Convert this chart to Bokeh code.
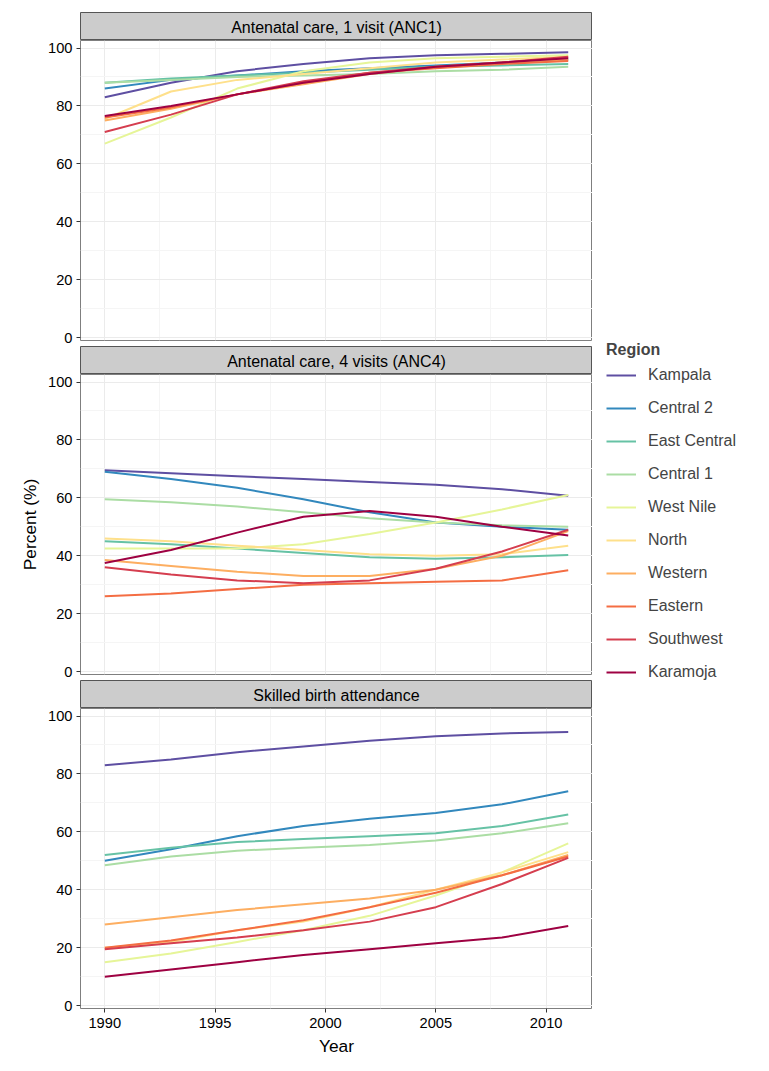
from bokeh.plotting import figure
from bokeh.layouts import column, row, Spacer
from bokeh.models import Legend, LegendItem, FixedTicker
from bokeh.core.properties import value
from bokeh.embed import file_html
from bokeh.resources import INLINE

years = [1990, 1993, 1996, 1999, 2002, 2005, 2008, 2011]
regions = ["Kampala", "Central 2", "East Central", "Central 1", "West Nile",
           "North", "Western", "Eastern", "Southwest", "Karamoja"]
colors = ["#5E4FA2", "#3288BD", "#66C2A5", "#ABDDA4", "#E6F598",
          "#FEE08B", "#FDAE61", "#F46D43", "#D53E4F", "#9E0142"]

anc1 = [
    [83, 88, 92, 94.5, 96.5, 97.5, 98, 98.5],
    [86, 89, 90.5, 92, 93, 94, 95, 96],
    [88, 89.5, 90.5, 91.5, 92.5, 93.5, 94, 94.5],
    [88, 89, 90, 90.5, 91, 92, 92.5, 93.5],
    [67, 76, 86, 92, 95, 96.5, 97, 97.5],
    [75.5, 85, 89, 91, 93, 95, 96, 97],
    [75, 79, 84, 87.5, 91, 93.5, 95, 96],
    [76, 79.5, 84, 88, 91.5, 93, 94.5, 95.5],
    [71, 77, 84, 88.5, 91.5, 93.5, 95, 97],
    [76.5, 80, 84, 88, 91, 93.5, 95, 96.5],
]
anc4 = [
    [69.5, 68.5, 67.5, 66.5, 65.5, 64.5, 63, 60.7],
    [69, 66.5, 63.5, 59.5, 55, 51.5, 50, 49],
    [45, 44, 42.5, 41, 39.5, 39, 39.5, 40.3],
    [59.5, 58.5, 57, 55, 53, 51.5, 50.5, 50],
    [42.5, 42.5, 42.5, 44, 47.5, 51.5, 56, 61],
    [46, 45, 43.5, 42, 40.5, 40, 40.5, 43.5],
    [38.5, 36.5, 34.5, 33, 33, 35.5, 40, 48.5],
    [26, 27, 28.5, 30, 30.5, 31, 31.5, 35],
    [36, 33.5, 31.5, 30.5, 31.5, 35.5, 41.5, 49],
    [37.5, 42, 48, 53.5, 55.5, 53.5, 50, 47],
]
sba = [
    [83, 85, 87.5, 89.5, 91.5, 93, 94, 94.5],
    [50, 54, 58.5, 62, 64.5, 66.5, 69.5, 74],
    [52, 54.5, 56.5, 57.5, 58.5, 59.5, 62, 66],
    [48.5, 51.5, 53.5, 54.5, 55.5, 57, 59.5, 63],
    [15, 18, 22, 26, 31, 38, 46, 56],
    [20, 22, 26, 29, 34, 40, 46, 53],
    [28, 30.5, 33, 35, 37, 40, 45, 52],
    [20, 22.5, 26, 29.5, 34, 39, 45, 51.5],
    [19.5, 21.5, 23.5, 26, 29, 34, 42, 51],
    [10, 12.5, 15, 17.5, 19.5, 21.5, 23.5, 27.5],
]
panels = ["Antenatal care, 1 visit (ANC1)", "Antenatal care, 4 visits (ANC4)",
          "Skilled birth attendance"]

FONT = "Liberation Sans"
FW = 512
LEFT = 80


def make_strip(title, top):
    s = figure(frame_width=FW, frame_height=28, output_backend="svg",
               toolbar_location=None, x_range=(0, 1), y_range=(0, 1),
               min_border_left=LEFT, min_border_right=0, min_border_top=top,
               min_border_bottom=0)
    s.axis.visible = False
    s.grid.visible = False
    s.background_fill_color = "#CCCCCC"
    s.outline_line_color = "#555555"
    s.text(x=[0.5], y=[0.45], text=[title], text_align="center",
           text_baseline="middle", text_font=value(FONT),
           text_font_size="12pt", text_color="black")
    return s


def make_panel(data, idx):
    bottom = 62 if idx == 2 else 6
    p = figure(frame_width=FW, frame_height=300, output_backend="svg",
               toolbar_location=None, x_range=(1988.9, 2012.1), y_range=(-1, 102.6),
               min_border_left=LEFT, min_border_top=0, min_border_bottom=bottom,
               min_border_right=0)
    p.background_fill_color = "white"
    p.outline_line_color = "#7F7F7F"
    p.xaxis.ticker = FixedTicker(ticks=[1990, 1995, 2000, 2005, 2010],
                                 minor_ticks=[1992.5, 1997.5, 2002.5, 2007.5])
    p.yaxis.ticker = FixedTicker(ticks=[0, 20, 40, 60, 80, 100],
                                 minor_ticks=[10, 30, 50, 70, 90])
    for ax in (p.xaxis, p.yaxis):
        ax.major_label_text_font = FONT
        ax.major_label_text_font_size = "11pt"
        ax.major_label_text_color = "black"
        ax.axis_line_color = None
        ax.major_tick_line_color = "#333333"
        ax.major_tick_out = 4
        ax.major_tick_in = 0
        ax.minor_tick_line_color = None
        ax.axis_label_text_font = FONT
        ax.axis_label_text_font_size = "13pt"
        ax.axis_label_text_font_style = "normal"
        ax.axis_label_text_color = "black"
    p.yaxis.major_label_standoff = 4
    p.grid.grid_line_color = "#EBEBEB"
    p.grid.minor_grid_line_color = "#F5F5F5"
    if idx == 1:
        p.yaxis.axis_label = "Percent (%)"
    if idx == 2:
        p.xaxis.axis_label = "Year"
    else:
        p.xaxis.visible = False
    for name, col, vals in zip(regions, colors, data):
        p.line(years, vals, line_color=col, line_width=2)
    return p


blocks = []
for i, (t, d) in enumerate(zip(panels, [anc1, anc4, sba])):
    blocks.append(make_strip(t, 12 if i == 0 else 0))
    blocks.append(make_panel(d, i))

# legend figure; the dummy lines lie outside the visible range
lf = figure(width=150, height=360, output_backend="svg", toolbar_location=None,
            x_range=(0, 1), y_range=(0, 1), min_border=0)
lf.axis.visible = False
lf.grid.visible = False
lf.outline_line_color = None
items = []
for name, col in zip(regions, colors):
    r = lf.line([5, 6], [5, 6], line_color=col, line_width=2)
    items.append(LegendItem(label=name, renderers=[r]))
leg = Legend(items=items, title="Region", border_line_color=None,
             background_fill_alpha=0, location="top_left",
             label_text_font=FONT, label_text_font_size="12pt",
             title_text_font=FONT, title_text_font_style="bold",
             title_text_font_size="12pt", glyph_width=30, glyph_height=22,
             spacing=11, padding=0, margin=2, label_standoff=12)
lf.add_layout(leg, "center")

layout = row(column(*blocks, spacing=0),
             column(Spacer(height=339), lf), spacing=12)
open("out.html", "w").write(file_html(layout, INLINE))
